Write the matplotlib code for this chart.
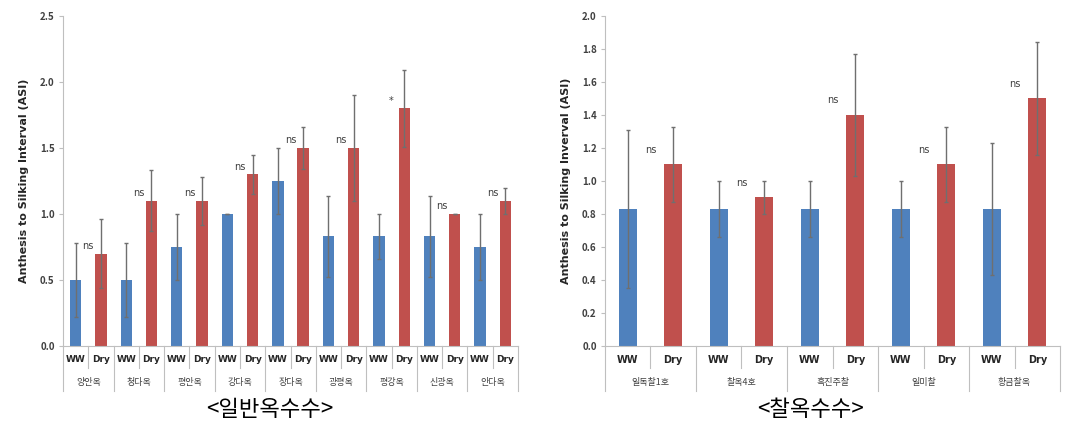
import numpy as np
import matplotlib.pyplot as plt

plt.rcParams['font.family'] = ['Noto Sans CJK KR', 'DejaVu Sans']

# 일반옥수수
normal_names = ['양안옥', '청다옥', '평안옥', '강다옥', '장다옥', '광평옥', '평강옥', '신광옥', '안다옥']
normal_ww = [0.5, 0.5, 0.75, 1.0, 1.25, 0.83, 0.83, 0.83, 0.75]
normal_ww_err = [0.28, 0.28, 0.25, 0.0, 0.25, 0.31, 0.17, 0.31, 0.25]
normal_dry = [0.7, 1.1, 1.1, 1.3, 1.5, 1.5, 1.8, 1.0, 1.1]
normal_dry_err = [0.26, 0.23, 0.18, 0.15, 0.16, 0.4, 0.29, 0.0, 0.1]
normal_sig = ['ns', 'ns', 'ns', 'ns', 'ns', 'ns', '*', 'ns', 'ns']

# 찰옥수수
waxy_names = ['일독찰1호', '찰옥4호', '흑진주찰', '일미찰', '황금찰옥']
waxy_ww = [0.83, 0.83, 0.83, 0.83, 0.83]
waxy_ww_err = [0.48, 0.17, 0.17, 0.17, 0.4]
waxy_dry = [1.1, 0.9, 1.4, 1.1, 1.5]
waxy_dry_err = [0.23, 0.1, 0.37, 0.23, 0.34]
waxy_sig = ['ns', 'ns', 'ns', 'ns', 'ns']

BLUE = '#4F81BD'
RED = '#C0504D'
GRID = '#BFBFBF'


def draw(ax, names, ww, ww_err, dry, dry_err, sig, ymax, ystep, ylabel, sig_off, width, lab_fs):
    n = len(names)
    x_ww = np.arange(n) * 2
    x_dry = x_ww + 1
    ekw = dict(ecolor='#6F6F6F', elinewidth=1, capsize=1.5, capthick=1)
    ax.bar(x_ww, ww, width, color=BLUE, yerr=ww_err, error_kw=ekw, zorder=2)
    ax.bar(x_dry, dry, width, color=RED, yerr=dry_err, error_kw=ekw, zorder=2)
    for xd, v, s in zip(x_dry, dry, sig):
        ax.text(xd - 0.5, v + sig_off, s, ha='center', va='bottom', fontsize=7,
                color='#404040', family='DejaVu Sans')
    ax.set_xlim(-0.5, 2 * n - 0.5)
    ax.set_ylim(0, ymax)
    ax.set_yticks(np.arange(0, ymax + ystep / 2, ystep))
    ax.yaxis.set_major_formatter(plt.FormatStrFormatter('%.1f'))
    ax.tick_params(axis='y', labelsize=7, length=3, color=GRID, labelcolor='#404040', pad=3)
    for t in ax.get_yticklabels():
        t.set_fontweight('bold')
    ax.set_xticks([])
    for s in ['top', 'right']:
        ax.spines[s].set_visible(False)
    ax.spines['left'].set_color(GRID)
    ax.spines['bottom'].set_color(GRID)
    ax.set_ylabel(ylabel, fontsize=8, fontweight='bold', color='#262626',
                  family='DejaVu Sans', labelpad=8)
    tr = ax.get_xaxis_transform()
    for i in range(2 * n):
        lab = 'WW' if i % 2 == 0 else 'Dry'
        ax.text(i, -0.042, lab, transform=tr, ha='center', va='center', fontsize=lab_fs,
                fontweight='bold', color='#262626', family='DejaVu Sans')
    for g in range(n):
        ax.text(2 * g + 0.5, -0.112, names[g], transform=tr, ha='center', va='center',
                fontsize=6.5, color='#404040')
    for i in range(2 * n + 1):
        low = -0.135 if i % 2 == 0 else -0.067
        ax.plot([i - 0.5, i - 0.5], [0, low], transform=tr, color=GRID, lw=0.8,
                clip_on=False)


fig = plt.figure(figsize=(10.83, 4.22), dpi=100)
ax1 = fig.add_axes([0.0582, 0.1801, 0.4201, 0.782])
ax2 = fig.add_axes([0.5586, 0.1801, 0.4202, 0.782])

draw(ax1, normal_names, normal_ww, normal_ww_err, normal_dry, normal_dry_err, normal_sig,
     2.5, 0.5, 'Anthesis to Silking Interval (ASI)', 0.02, 0.45, 6.5)
draw(ax2, waxy_names, waxy_ww, waxy_ww_err, waxy_dry, waxy_dry_err, waxy_sig,
     2.0, 0.2, 'Anthesis to Silking Inverval (ASI)', 0.06, 0.4, 7)

fig.text(270 / 1083, 1 - 410 / 422, '<일반옥수수>', ha='center', va='center', fontsize=16)
fig.text(810 / 1083, 1 - 410 / 422, '<찰옥수수>', ha='center', va='center', fontsize=16)

fig.savefig('out.png', dpi=100)
